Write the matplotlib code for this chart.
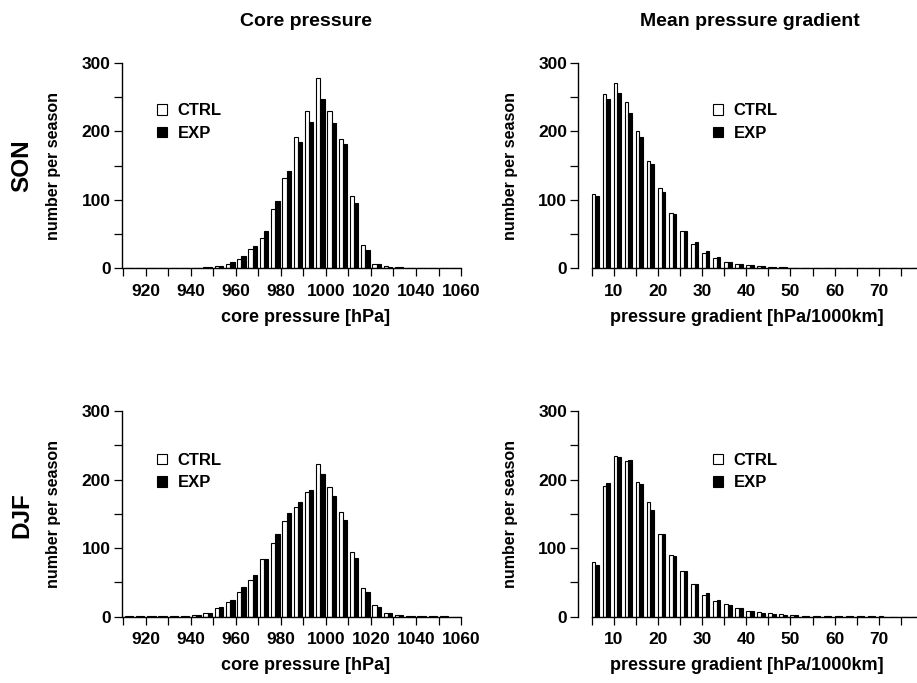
import numpy as np
import matplotlib
matplotlib.use("Agg")
import matplotlib.pyplot as plt
from matplotlib.patches import Patch
from matplotlib.ticker import FixedLocator

# ---------------- data ----------------
core_bins = list(range(910, 1060, 5))          # left edges, 5 hPa bins
grad_bins = [5 + 2.5 * i for i in range(30)]   # left edges, 2.5 hPa/1000km bins

son_core_ctrl = [0.3, 0.5, 0.5, 0.7, 0.8, 1.0, 1.2, 1.5, 4, 7, 14, 28, 45, 86, 132,
                 192, 229, 278, 229.5, 189, 105, 34, 7, 3, 1.5, 1, 0.6, 0.4, 0.3, 0.2]
son_core_exp = [0.3, 0.4, 0.5, 0.6, 0.8, 1.0, 1.3, 1.8, 4, 10, 17.5, 33, 55, 98, 142,
                184, 213, 247, 211.5, 181, 96, 27, 6, 2, 1.5, 0.8, 0.5, 0.3, 0.2, 0.2]
djf_core_ctrl = [0.3, 0.5, 0.5, 0.7, 0.8, 1, 2, 6, 12, 22, 35.5, 54, 84, 108, 140,
                 160, 182, 223, 189, 153, 94, 42, 16.5, 6, 3, 1.5, 1, 0.5, 0.3, 0.2]
djf_core_exp = [0.3, 0.5, 0.5, 0.7, 0.8, 1, 2.5, 5, 14, 24, 43, 61, 84, 121, 151,
                167, 185, 208, 176, 140.5, 86, 36, 13.6, 5, 2.5, 1, 0.8, 0.5, 0.3, 0.2]

son_grad_ctrl = [108, 255, 271, 243, 200, 157, 117, 81, 55, 35, 23, 14.6, 10, 7, 4.5,
                 3, 2, 1.5, 1, 0.8, 0.6, 0.5, 0.4, 0.3, 0.3, 0.2, 0.2, 0.2, 0.1, 0.1]
son_grad_exp = [106, 247, 256, 227, 191, 152, 111, 79, 54.5, 38.4, 26, 16.5, 10, 7, 4.5,
                3, 2, 1.5, 1, 0.7, 0.5, 0.4, 0.3, 0.3, 0.2, 0.2, 0.2, 0.1, 0.1, 0.1]
djf_grad_ctrl = [80, 191, 234, 227, 197, 167, 120, 90, 66, 47, 31, 23, 18.5, 12, 8,
                 7, 5, 3.5, 2, 1.5, 1, 0.7, 0.6, 0.5, 0.4, 0.3, 0.3, 0.2, 0.2, 0.1]
djf_grad_exp = [76, 195, 233, 229, 193, 156, 120, 88, 67, 47, 34, 24, 16.5, 12, 8,
                6, 4.5, 3, 2, 1.3, 1, 0.6, 0.5, 0.4, 0.4, 0.3, 0.2, 0.2, 0.1, 0.1]

col_titles = ["Core pressure", "Mean pressure gradient"]
row_labels = ["SON", "DJF"]
xlabels = ["core pressure [hPa]", "pressure gradient [hPa/1000km]"]
ylabel = "number per season"
series_names = ["CTRL", "EXP"]

# ---------------- style ----------------
REG = ["Liberation Sans", "DejaVu Sans"]
plt.rcParams["font.family"] = REG
plt.rcParams["font.weight"] = "bold"

W, H = 917, 683
fig = plt.figure(figsize=(W / 100, H / 100), dpi=100)

left_px = [121.7, 578.3]
width_px = [341.6, 344.8]
top_px = [62.7, 411.0]
height_px = 205.7

xlims = [(909.3, 1061.0), (2.0, 80.0)]
spine_bounds = [(910, 1060), (5, 80)]
bins = [core_bins, grad_bins]
barw = [1.9, 0.83]
center_off = [2.5, 0.83]

data = {
    (0, 0): (son_core_ctrl, son_core_exp),
    (0, 1): (son_grad_ctrl, son_grad_exp),
    (1, 0): (djf_core_ctrl, djf_core_exp),
    (1, 1): (djf_grad_ctrl, djf_grad_exp),
}
legend_x = [0.102, 0.39]
legend_y = [0.712, 0.706]

for r in range(2):
    for c in range(2):
        ax = fig.add_axes([left_px[c] / W, 1 - (top_px[r] + height_px) / H,
                           width_px[c] / W, height_px / H])
        ctrl, exp = data[(r, c)]
        centers = np.array(bins[c]) + center_off[c]
        ax.bar(centers - barw[c], ctrl, width=barw[c], align="edge",
               facecolor="white", edgecolor="black", linewidth=0.8)
        ax.bar(centers, exp, width=barw[c], align="edge",
               facecolor="black", edgecolor="black", linewidth=0.8)
        ax.set_xlim(*xlims[c])
        ax.set_ylim(0, 300)
        for s in ["top", "right"]:
            ax.spines[s].set_visible(False)
        ax.spines["left"].set_bounds(0, 300)
        ax.spines["bottom"].set_bounds(*spine_bounds[c])
        for s in ["left", "bottom"]:
            ax.spines[s].set_linewidth(1.0)
        ax.yaxis.set_major_locator(FixedLocator([0, 100, 200, 300]))
        ax.yaxis.set_minor_locator(FixedLocator([50, 150, 250]))
        if c == 0:
            ax.xaxis.set_major_locator(FixedLocator(list(range(920, 1061, 20))))
            ax.xaxis.set_minor_locator(FixedLocator(list(range(910, 1060, 20))))
        else:
            ax.xaxis.set_major_locator(FixedLocator(list(range(10, 71, 10))))
            ax.xaxis.set_minor_locator(FixedLocator([5, 15, 25, 35, 45, 55, 65, 75]))
        ax.tick_params(which="both", direction="out", length=5.5, width=0.9,
                       labelsize=12.5)
        ax.tick_params(axis="y", which="both", pad=2.5)
        ax.tick_params(axis="x", which="both", pad=5.5)
        for lab in ax.get_xticklabels() + ax.get_yticklabels():
            lab.set_fontweight("bold")

        ax.set_xlabel(xlabels[c], fontsize=13, fontweight="bold")
        ax.xaxis.label.set_va("center")
        ax.xaxis.set_label_coords([0.538, 0.488][c],
                                  -(317 - (top_px[0] + height_px)) / height_px)
        ax.set_ylabel(ylabel, fontsize=11.5, fontweight="bold")
        ax.yaxis.label.set_va("center")
        ax.yaxis.set_label_coords(-68 / width_px[c], 0.5)

        handles = [Patch(facecolor="white", edgecolor="black", linewidth=0.8),
                   Patch(facecolor="black", edgecolor="black", linewidth=0.8)]
        ax.legend(handles, series_names, loc="center left",
                  bbox_to_anchor=(legend_x[c], legend_y[r]),
                  frameon=False, borderpad=0, borderaxespad=0,
                  handlelength=0.6, handleheight=0.6, handletextpad=0.65,
                  labelspacing=0.45, prop={"weight": "bold", "size": 12})

fig.text(306 / W, 1 - 21 / H, col_titles[0], ha="center", va="center",
         fontsize=14, fontweight="bold")
fig.text(750 / W, 1 - 21 / H, col_titles[1], ha="center", va="center",
         fontsize=14, fontweight="bold")
fig.text(22 / W, 1 - 166 / H, row_labels[0], ha="center", va="center", rotation=90,
         fontsize=17.5, fontweight="bold")
fig.text(22 / W, 1 - 515 / H, row_labels[1], ha="center", va="center", rotation=90,
         fontsize=17.5, fontweight="bold")

fig.savefig("out.png", dpi=100)
